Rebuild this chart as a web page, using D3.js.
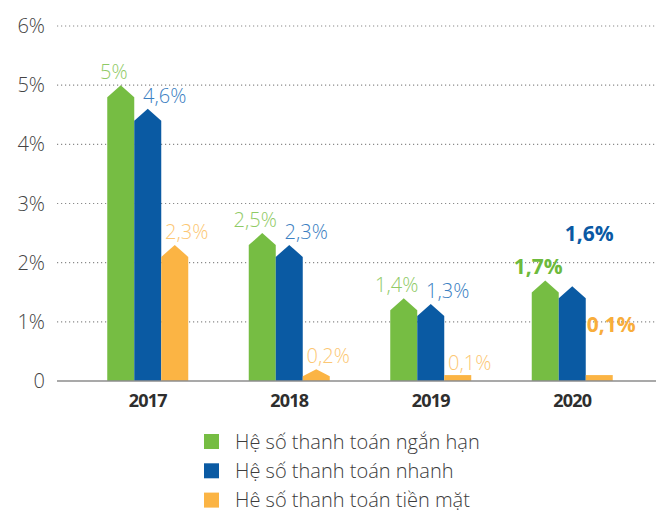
<!DOCTYPE html>
<meta charset="utf-8">
<script src="https://cdn.jsdelivr.net/npm/d3@7"></script>
<style>
  body { margin: 0; background: #fff; }
  text { font-family: "Open Sans", "DejaVu Sans", sans-serif; }
</style>
<body>
<script>

// data
var years = ["2017", "2018", "2019", "2020"];
var seriesNames = ["Hệ số thanh toán ngắn hạn", "Hệ số thanh toán nhanh", "Hê số thanh toán tiền mặt"];
var shortTerm = [5.0, 2.5, 1.4, 1.7];
var quick = [4.6, 2.3, 1.3, 1.6];
var cash = [2.3, 0.2, 0.1, 0.1];
var labelText = [
    ["5%", "2,5%", "1,4%", "1,7%"],
    ["4,6%", "2,3%", "1,3%", "1,6%"],
    ["2,3%", "0,2%", "0,1%", "0,1%"]
];
var yTicks = [0, 1, 2, 3, 4, 5, 6];
var yTickLabels = ["0", "1%", "2%", "3%", "4%", "5%", "6%"];
var boldYears = ["2020"];

var allSeries = [shortTerm, quick, cash];

// layout
var width = 658, height = 512,
    barColors = ["#76bd43", "#0a5aa3", "#fbb444"],
    labelColors = ["#8fca66", "#3b80c2", "#fcc774"],
    boldColors = ["#6dba3c", "#0a59a4", "#f8ad3b"],
    labelDx = [-7, 17, 12],
    barW = 27,
    capH = 12;

// a few labels sit well above their bar in the original
var lifted = {"2020-1": 39, "2020-2": 38};

var svg = d3.select("body").append("svg")
    .attr("width", width)
    .attr("height", height);

var y = d3.scaleLinear().domain([0, 6]).range([381, 26]);
var x = d3.scaleBand().domain(years).range([77, 643]);

// dotted gridlines
svg.append("g").selectAll("line")
    .data(yTicks.filter(function(d){ return d > 0; }))
    .enter().append("line")
    .attr("x1", 57).attr("x2", 656)
    .attr("y1", function(d){ return y(d); })
    .attr("y2", function(d){ return y(d); })
    .attr("stroke", "#8a8a8a")
    .attr("stroke-width", 1.2)
    .attr("stroke-dasharray", "1.2,2.8");

// y labels
svg.append("g").selectAll("text")
    .data(yTicks)
    .enter().append("text")
    .attr("x", 45)
    .attr("y", function(d){ return y(d) + 7; })
    .attr("text-anchor", "end")
    .attr("font-size", 20)
    .attr("font-weight", 300)
    .attr("fill", "#444")
    .text(function(d, i){ return yTickLabels[i]; });

// bars with an arrow-shaped top
function barPath(x0, v) {
    var base = y(0), tip = y(v), h = base - tip;
    var c = h > 9 ? Math.min(capH, h * 0.6) : 0;
    var x1 = x0 + barW;
    return "M" + x0 + "," + base +
        "L" + x0 + "," + (tip + c) +
        "L" + (x0 + barW / 2) + "," + tip +
        "L" + x1 + "," + (tip + c) +
        "L" + x1 + "," + base + "Z";
}

var groupOffset = -1.5 * barW;

allSeries.forEach(function(values, s) {
    var g = svg.append("g").attr("class", "series-" + s);
    g.selectAll("path")
        .data(values)
        .enter().append("path")
        .attr("d", function(d, i){
            var x0 = x(years[i]) + x.bandwidth() / 2 + groupOffset + s * barW;
            return barPath(x0, d);
        })
        .attr("fill", barColors[s]);

    g.selectAll("text")
        .data(values)
        .enter().append("text")
        .attr("x", function(d, i){
            return x(years[i]) + x.bandwidth() / 2 + groupOffset + s * barW + barW / 2 + labelDx[s];
        })
        .attr("y", function(d, i){
            var lift = lifted[years[i] + "-" + s] || 0;
            var top = d < 0.15 ? y(0) - 5 : y(d);
            return top - 6 - lift;
        })
        .attr("text-anchor", "middle")
        .attr("font-size", function(d, i){ return boldYears.indexOf(years[i]) >= 0 ? 21 : 20; })
        .attr("font-weight", function(d, i){ return boldYears.indexOf(years[i]) >= 0 ? 700 : 300; })
        .attr("fill", function(d, i){ return boldYears.indexOf(years[i]) >= 0 ? boldColors[s] : labelColors[s]; })
        .text(function(d, i){ return labelText[s][i]; });
});

// baseline
svg.append("line")
    .attr("x1", 57).attr("x2", 656)
    .attr("y1", y(0)).attr("y2", y(0))
    .attr("stroke", "#8c8c8c")
    .attr("stroke-width", 1.5);

// year labels (condensed in the original)
svg.append("g").selectAll("text")
    .data(years)
    .enter().append("text")
    .attr("x", function(d){ return x(d) + x.bandwidth() / 2; })
    .attr("y", 407)
    .attr("text-anchor", "middle")
    .attr("font-size", 18)
    .attr("font-weight", 700)
    .attr("letter-spacing", -0.8)
    .attr("fill", "#2e2e2e")
    .text(function(d){ return d; });

// legend
var legend = svg.append("g").selectAll("g")
    .data(seriesNames)
    .enter().append("g")
    .attr("transform", function(d, i){ return "translate(204," + (434 + i * 29.3) + ")"; });

legend.append("rect")
    .attr("width", 15).attr("height", 15)
    .attr("fill", function(d, i){ return barColors[i]; });

legend.append("text")
    .attr("x", 31)
    .attr("y", 14.5)
    .attr("font-size", 20)
    .attr("font-weight", 300)
    .attr("fill", "#3c3c3c")
    .text(function(d){ return d; });

</script>
</body>
